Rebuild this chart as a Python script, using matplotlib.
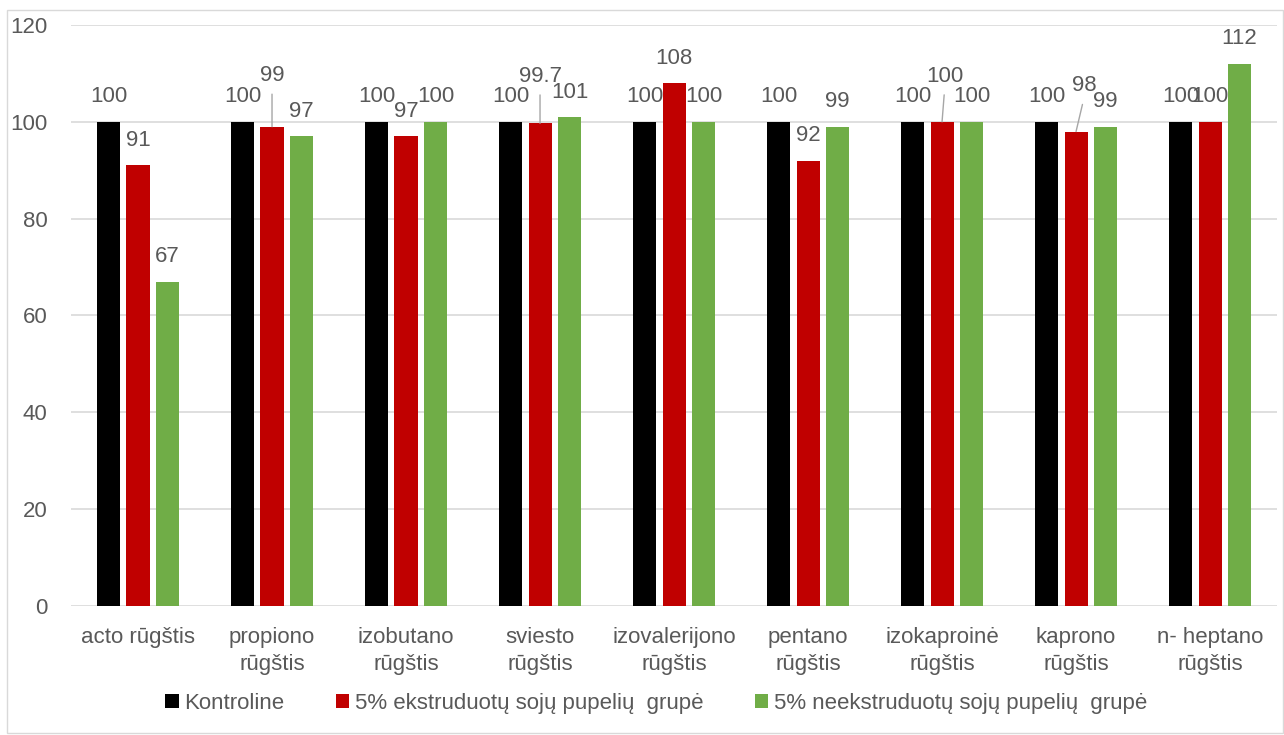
import matplotlib.pyplot as plt
import numpy as np
from matplotlib.patches import Rectangle

plt.rcParams['font.family'] = ['Liberation Sans', 'DejaVu Sans']

# categories and series
categories = ['acto rūgštis', 'propiono\nrūgštis', 'izobutano\nrūgštis', 'sviesto\nrūgštis',
              'izovalerijono\nrūgštis', 'pentano\nrūgštis', 'izokaproinė\nrūgštis',
              'kaprono\nrūgštis', 'n- heptano\nrūgštis']
series_names = ['Kontroline', '5% ekstruduotų sojų pupelių  grupė',
                '5% neekstruduotų sojų pupelių  grupė']
kontrol = [100, 100, 100, 100, 100, 100, 100, 100, 100]
ekstr = [91, 99, 97, 99.7, 108, 92, 100, 98, 100]
neekstr = [67, 97, 100, 101, 100, 99, 100, 99, 112]
colors = ['#000000', '#C00000', '#70AD47']

# red labels moved up with a leader line (category index -> (dx, dy) points)
moved = {1: (0, 33), 3: (0, 30), 6: (2, 29), 7: (6, 29)}

txt = '#595959'
fs = 16
fig = plt.figure(figsize=(12.84, 7.35), dpi=100)
ax = fig.add_axes([0.0553, 0.1755, 0.9393, 0.7905])

x = np.arange(len(categories))
w = 0.172
off = 0.22
all_vals = [kontrol, ekstr, neekstr]
for i, (vals, c, name) in enumerate(zip(all_vals, colors, series_names)):
    pos = x + (i - 1) * off
    ax.bar(pos, vals, width=w, color=c, label=name, zorder=3)
    for j, v in enumerate(vals):
        lab = f'{v:g}'
        if i == 1 and j in moved:
            dx, dy = moved[j]
            ax.annotate(lab, xy=(pos[j], v), xytext=(dx, dy), textcoords='offset points',
                        ha='center', va='baseline', fontsize=fs, color=txt,
                        arrowprops=dict(arrowstyle='-', color='#a6a6a6', lw=1,
                                        shrinkA=4, shrinkB=0, relpos=(0.5, 0)))
        else:
            ax.annotate(lab, xy=(pos[j], v), xytext=(0, 14), textcoords='offset points',
                        ha='center', va='baseline', fontsize=fs, color=txt)

ax.set_xlim(-0.5, len(categories) - 0.5)
ax.set_ylim(0, 120)
ax.set_yticks(range(0, 121, 20))
ax.set_xticks(x)
ax.set_xticklabels(categories, fontsize=fs, color=txt, linespacing=1.4)
ax.tick_params(axis='y', labelsize=fs, labelcolor=txt, length=0, pad=17)
ax.tick_params(axis='x', length=0, pad=15)
ax.grid(axis='y', color='#d9d9d9', lw=1.2, zorder=0)
for s in ax.spines.values():
    s.set_visible(False)

fig.legend(loc='center', bbox_to_anchor=(0.511, 0.043), ncol=3, frameon=False,
           fontsize=fs, labelcolor=txt, handlelength=0.62, handleheight=0.62,
           handletextpad=0.25, columnspacing=2.3)

fig.patches.append(Rectangle((7 / 1284, 2 / 735), 1276 / 1284, 723 / 735,
                             transform=fig.transFigure, fill=False,
                             edgecolor='#d9d9d9', lw=1))

fig.savefig('out.png', dpi=100)
